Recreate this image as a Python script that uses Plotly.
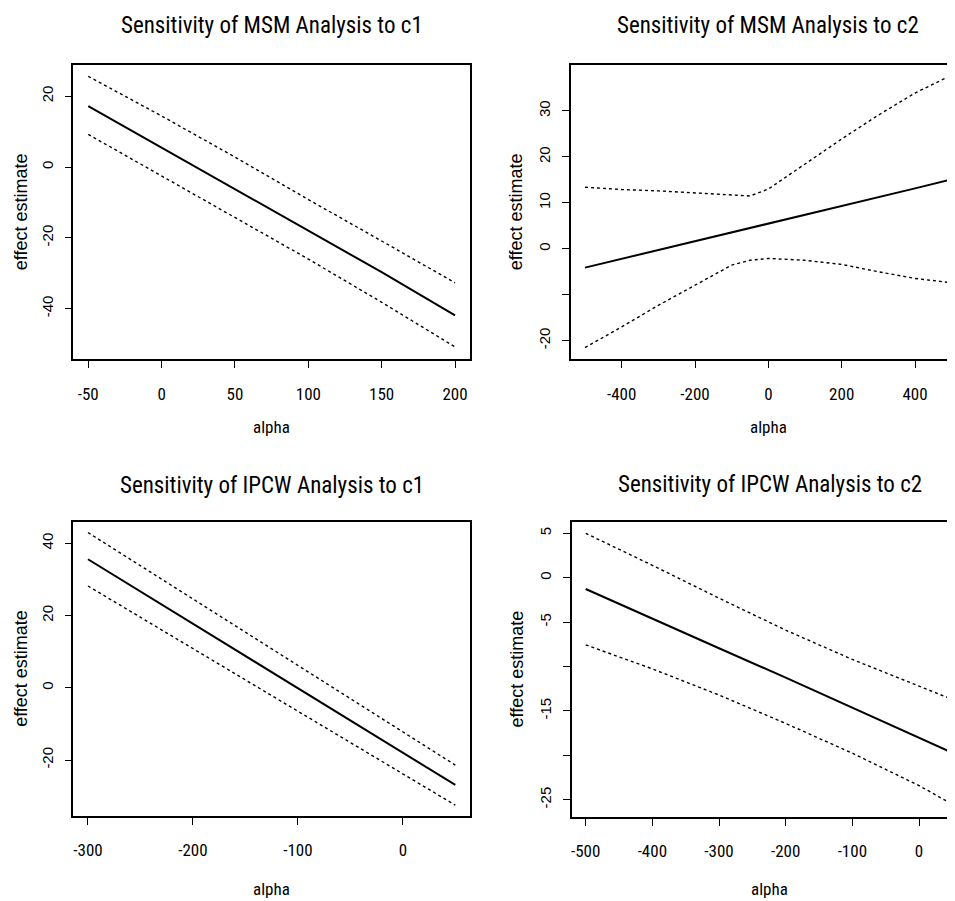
import plotly.graph_objects as go

# ---------------- data ----------------
# Panel 1: Sensitivity of MSM Analysis to c1
msm_c1_alpha = [-50, 0, 50, 100, 150, 200]
msm_c1_est = [17.2, 5.5, -6.1, -17.8, -29.7, -41.9]
msm_c1_upper = [25.6, 14.4, 2.8, -9.2, -20.9, -32.7]
msm_c1_lower = [9.2, -2.6, -14.2, -26.0, -38.2, -50.8]

# Panel 2: Sensitivity of MSM Analysis to c2
msm_c2_alpha = [-500, -400, -300, -200, -100, -50, 0, 100, 200, 300, 400, 500]
msm_c2_est = [-4.1, -2.2, -0.3, 1.6, 3.5, 4.45, 5.4, 7.35, 9.3, 11.2, 13.15, 15.1]
msm_c2_upper = [13.4, 12.9, 12.6, 12.2, 11.8, 11.5, 13.0, 18.4, 23.9, 29.1, 33.9, 37.8]
msm_c2_lower = [-21.5, -17.0, -12.3, -7.9, -3.55, -2.5, -2.1, -2.5, -3.4, -5.0, -6.45, -7.4]

# Panel 3: Sensitivity of IPCW Analysis to c1
ipcw_c1_alpha = [-300, -250, -200, -150, -100, -50, 0, 50]
ipcw_c1_est = [35.6, 26.7, 17.8, 8.8, 0.0, -9.0, -18.0, -26.9]
ipcw_c1_upper = [43.0, 33.8, 24.6, 15.4, 6.2, -3.0, -12.2, -21.4]
ipcw_c1_lower = [28.2, 19.5, 10.8, 2.2, -6.5, -15.2, -23.8, -32.5]

# Panel 4: Sensitivity of IPCW Analysis to c2
ipcw_c2_alpha = [-500, -400, -300, -200, -100, 0, 50]
ipcw_c2_est = [-1.27, -4.56, -7.94, -11.24, -14.6, -18.0, -19.7]
ipcw_c2_upper = [5.0, 1.4, -2.3, -5.9, -9.2, -12.2, -13.7]
ipcw_c2_lower = [-7.56, -10.26, -13.2, -16.4, -19.75, -23.4, -25.5]

titles = ["Sensitivity of MSM Analysis to c1", "Sensitivity of MSM Analysis to c2",
          "Sensitivity of IPCW Analysis to c1", "Sensitivity of IPCW Analysis to c2"]
x_label = "alpha"
y_label = "effect estimate"

x_ticks = [[-50, 0, 50, 100, 150, 200], [-400, -200, 0, 200, 400],
           [-300, -200, -100, 0], [-500, -400, -300, -200, -100, 0]]
y_ticks = [[-40, -20, 0, 20], [-20, -10, 0, 10, 20, 30],
           [-20, 0, 20, 40], [-25, -20, -15, -10, -5, 0, 5]]
y_ticktext = [["-40", "-20", "0", "20"], ["-20", "", "0", "10", "20", "30"],
              ["-20", "0", "20", "40"], ["-25", "", "-15", "", "-5", "0", "5"]]

panels = [
    (msm_c1_alpha, msm_c1_est, msm_c1_upper, msm_c1_lower),
    (msm_c2_alpha, msm_c2_est, msm_c2_upper, msm_c2_lower),
    (ipcw_c1_alpha, ipcw_c1_est, ipcw_c1_upper, ipcw_c1_lower),
    (ipcw_c2_alpha, ipcw_c2_est, ipcw_c2_upper, ipcw_c2_lower),
]

# ---------------- layout geometry (reference pixels) ----------------
OFF = 8  # page body margin
W, H = 955 - OFF, 901 - OFF
boxes = [  # left, right, top, bottom
    (73.3, 470.0, 65.0, 359.3),
    (570.7, 955.0, 65.0, 359.3),
    (73.3, 470.0, 521.7, 816.0),
    (571.5, 955.0, 522.3, 816.7),
]
x_ranges = [[-60.2, 210.2], [-539, 509], [-314, 64], [-521.3, 54]]
y_ranges = [[-54.3, 28.8], [-24.05, 40.0], [-35.5, 46.0], [-26.9, 6.24]]
full_right = [470.0, 966.0, 470.0, 968.0]  # uncropped right edge for title centering
title_y = [25, 25, 485, 484]
ylab_x = [21, 516, 21, 516]
xlab_y = [427, 427, 889, 889]

HFONT = "Roboto Condensed, Liberation Sans Narrow, Liberation Sans, sans-serif"
VFONT = "Liberation Sans, Arial, sans-serif"


def px(x):
    return (x - OFF) / W


def py(y):
    return 1 - (y - OFF) / H


fig = go.Figure()
layout = dict(width=W, height=H, margin=dict(l=0, r=0, t=0, b=0), autosize=False,
              paper_bgcolor="white", plot_bgcolor="white", showlegend=False)
annotations = []

for i, (a, est, up, lo) in enumerate(panels):
    xa = "x" if i == 0 else f"x{i+1}"
    ya = "y" if i == 0 else f"y{i+1}"
    for vals, dash, wd in ((est, "solid", 2.0), (up, "dot", 1.4), (lo, "dot", 1.4)):
        fig.add_trace(go.Scatter(x=a, y=vals, mode="lines", xaxis=xa, yaxis=ya,
                                 line=dict(color="black", width=wd, dash=dash),
                                 hoverinfo="skip"))
    l, r, t, b = boxes[i]
    cropped = r >= 955
    xkey = "xaxis" if i == 0 else f"xaxis{i+1}"
    ykey = "yaxis" if i == 0 else f"yaxis{i+1}"
    layout[xkey] = dict(domain=[px(l), min(px(r), 1.0)], range=x_ranges[i], anchor=ya,
                        showgrid=False, zeroline=False, showline=True, linecolor="black",
                        linewidth=1.6, mirror=True, ticks="outside", ticklen=7, tickwidth=1.4,
                        tickcolor="black", tickvals=x_ticks[i],
                        ticktext=[str(v) for v in x_ticks[i]],
                        tickfont=dict(family=HFONT, size=17, color="black"),
                        ticklabelstandoff=11)
    layout[ykey] = dict(domain=[py(b), py(t)], range=y_ranges[i], anchor=xa,
                        showgrid=False, zeroline=False, showline=True, linecolor="black",
                        linewidth=1.6, mirror=(not cropped), ticks="outside", ticklen=7,
                        tickwidth=1.4, tickcolor="black", tickvals=y_ticks[i],
                        ticktext=y_ticktext[i], tickangle=-90,
                        tickfont=dict(family=VFONT, size=15, color="black"),
                        ticklabelstandoff=6)
    cx = (l + full_right[i]) / 2
    annotations.append(dict(text=titles[i], x=px(cx), y=py(title_y[i]), xref="paper",
                            yref="paper", xanchor="center", yanchor="middle", showarrow=False,
                            font=dict(family=HFONT, size=23, color="black")))
    annotations.append(dict(text=x_label, x=px(cx), y=py(xlab_y[i]), xref="paper",
                            yref="paper", xanchor="center", yanchor="middle", showarrow=False,
                            font=dict(family=HFONT, size=17, color="black")))
    annotations.append(dict(text=y_label, x=px(ylab_x[i]), y=py((t + b) / 2),
                            xref="paper", yref="paper", xanchor="center", yanchor="middle",
                            showarrow=False, textangle=-90,
                            font=dict(family=VFONT, size=18, color="black")))

layout["annotations"] = annotations
fig.update_layout(**layout)
fig.write_html("out.html")
